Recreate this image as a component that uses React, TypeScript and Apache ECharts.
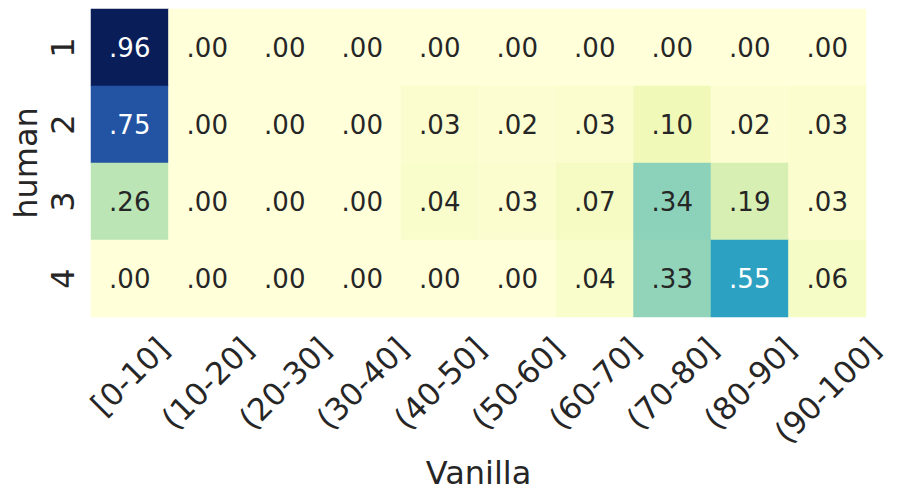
import React, { useEffect, useRef } from "react";
import * as echarts from "echarts";

const xCategories = ["[0-10]", "(10-20]", "(20-30]", "(30-40]", "(40-50]", "(50-60]", "(60-70]", "(70-80]", "(80-90]", "(90-100]"];
const yCategories = ["1", "2", "3", "4"];
const row1 = [0.96, 0.0, 0.0, 0.0, 0.0, 0.0, 0.0, 0.0, 0.0, 0.0];
const row2 = [0.75, 0.0, 0.0, 0.0, 0.03, 0.02, 0.03, 0.1, 0.02, 0.03];
const row3 = [0.26, 0.0, 0.0, 0.0, 0.04, 0.03, 0.07, 0.34, 0.19, 0.03];
const row4 = [0.0, 0.0, 0.0, 0.0, 0.0, 0.0, 0.04, 0.33, 0.55, 0.06];
const rows = [row1, row2, row3, row4];
const colorMin = 0;
const colorMax = 0.963;
const ylGnBu = ["#ffffd9", "#edf8b1", "#c7e9b4", "#7fcdbb", "#41b6c4", "#1d91c0", "#225ea8", "#253494", "#081d58"];

const FONT = "DejaVu Sans";
const TICK_FS = 31;
const TEXT_COLOR = "#262626";

function measure(text: string, fs: number): number {
  const c = document.createElement("canvas").getContext("2d");
  if (!c) return text.length * fs * 0.6;
  c.font = `${fs}px "${FONT}"`;
  return c.measureText(text).width;
}

export default function App() {
  const ref = useRef<HTMLDivElement>(null);
  useEffect(() => {
    if (!ref.current) return;
    const chart = echarts.init(ref.current, null, { renderer: "svg" });
    const data: any[] = [];
    rows.forEach((row, yi) => {
      row.forEach((v, xi) => {
        data.push({
          value: [xi, yi, v],
          label: { color: v > 0.45 ? "#ffffff" : TEXT_COLOR },
        });
      });
    });
    const gridBottom = 184;
    chart.setOption({
      animation: false,
      backgroundColor: "#ffffff",
      grid: { left: 91, top: 9, right: 34, bottom: gridBottom, containLabel: false, outerBoundsMode: "none" },
      xAxis: {
        type: "category",
        data: xCategories,
        name: "Vanilla",
        nameLocation: "middle",
        nameGap: 140,
        nameMoveOverlap: false,
        nameTextStyle: { fontFamily: FONT, fontSize: 32, color: TEXT_COLOR },
        axisLine: { show: false },
        axisTick: { show: false },
        splitLine: { show: false },
        axisLabel: { show: false },
      },
      yAxis: {
        type: "category",
        data: yCategories,
        inverse: true,
        name: "human",
        nameLocation: "middle",
        nameGap: 49,
        nameRotate: 90,
        nameMoveOverlap: false,
        nameTextStyle: { fontFamily: FONT, fontSize: 32, color: TEXT_COLOR },
        axisLine: { show: false },
        axisTick: { show: false },
        splitLine: { show: false },
        axisLabel: {
          rotate: 90,
          margin: 12,
          fontFamily: FONT,
          fontSize: 32,
          color: TEXT_COLOR,
          align: "center",
          verticalAlign: "bottom",
        },
      },
      visualMap: {
        show: false,
        type: "continuous",
        min: colorMin,
        max: colorMax,
        dimension: 2,
        inRange: { color: ylGnBu },
      },
      series: [
        {
          type: "heatmap",
          data,
          label: {
            show: true,
            fontFamily: FONT,
            fontSize: 26,
            formatter: (p: any) => p.value[2].toFixed(2).replace(/^0/, ""),
          },
          itemStyle: { borderWidth: 0 },
          emphasis: { disabled: true },
        },
      ],
    });

    // x tick labels, rotated 45deg like matplotlib (bbox centred on tick, top aligned)
    const axisY = 501 - gridBottom;
    const topGap = 16;
    const graphics = xCategories.map((c, i) => {
      const px = chart.convertToPixel({ xAxisIndex: 0 }, c) as number;
      const w = measure(c, TICK_FS);
      const d = (w + 0.9 * TICK_FS) / (2 * Math.SQRT2);
      return {
        type: "text",
        x: px,
        y: axisY + topGap + d,
        rotation: Math.PI / 4,
        silent: true,
        style: {
          text: c,
          fontFamily: FONT,
          fontSize: TICK_FS,
          fill: TEXT_COLOR,
          align: "center",
          verticalAlign: "middle",
          textAlign: "center",
          textVerticalAlign: "middle",
        },
      };
    });
    chart.setOption({ graphic: graphics });
    return () => chart.dispose();
  }, []);
  return <div ref={ref} style={{ width: 900, height: 501, position: "absolute", left: 0, top: 0 }} />;
}
